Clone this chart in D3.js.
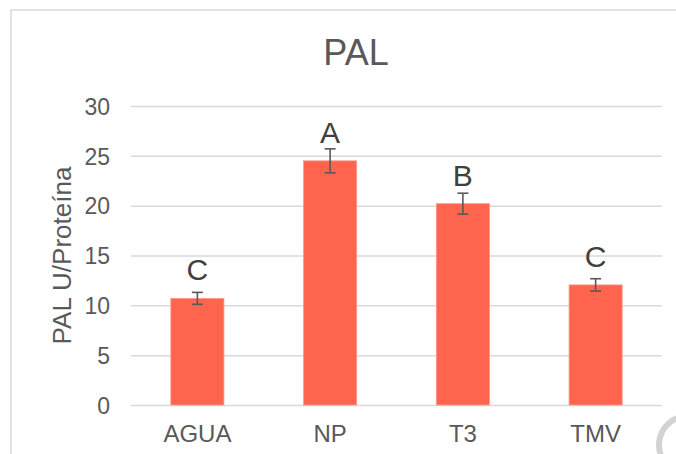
<!DOCTYPE html>
<html>
<head>
<meta charset="utf-8">
<script src="https://cdn.jsdelivr.net/npm/d3@7"></script>
<style>
  html, body { margin: 0; padding: 0; background: #fff; }
  svg { display: block; font-family: "Liberation Sans", Arial, sans-serif; }
</style>
</head>
<body>
<svg id="chart" width="676" height="454"></svg>
<script>
// chart data
const categories = ['AGUA', 'NP', 'T3', 'TMV'];
const values = [10.7, 24.5, 20.2, 12.05];
const errors = [0.6, 1.2, 1.05, 0.62];
const letters = ['C', 'A', 'B', 'C'];
const yTicks = [0, 5, 10, 15, 20, 25, 30];

const svg = d3.select('#chart');
const margin = { top: 106, right: 14, bottom: 49, left: 131 };
const width = 676 - margin.left - margin.right;
const height = 454 - margin.top - margin.bottom;

// chart frame (runs off the right and bottom edges)
svg.append('rect')
  .attr('x', 11).attr('y', 10)
  .attr('width', 700).attr('height', 470)
  .attr('fill', 'none')
  .attr('stroke', '#d9d9d9')
  .attr('stroke-width', 1.5);

const chart = svg.append('g')
  .attr('transform', `translate(${margin.left},${margin.top})`);

const xScale = d3.scaleBand()
  .domain(categories)
  .range([0, width])
  .paddingInner(0.6)
  .paddingOuter(0.3);

const yScale = d3.scaleLinear()
  .domain([0, 30])
  .range([height, 0]);

// gridlines + y labels
const yAxis = chart.append('g')
  .call(d3.axisLeft(yScale).tickValues(yTicks).tickSize(-width).tickPadding(21));
yAxis.select('.domain').remove();
yAxis.selectAll('line').attr('stroke', '#d9d9d9').attr('stroke-width', 1.5);
yAxis.selectAll('text')
  .attr('fill', '#595959')
  .style('font-size', '23px')
  .attr('dy', '0.36em');

// bars
chart.selectAll('.bar')
  .data(values)
  .enter()
  .append('rect')
  .attr('class', 'bar')
  .attr('x', (d, i) => xScale(categories[i]))
  .attr('y', d => yScale(d))
  .attr('width', xScale.bandwidth())
  .attr('height', d => height - yScale(d))
  .attr('fill', '#ff644e')
  .attr('stroke', '#ff9a8c')
  .attr('stroke-width', 0.8);

// error bars
const cx = i => xScale(categories[i]) + xScale.bandwidth() / 2;
const err = chart.append('g')
  .attr('stroke', '#595959')
  .attr('stroke-width', 1.6)
  .attr('fill', 'none');
values.forEach((v, i) => {
  const hi = yScale(v + errors[i]);
  const lo = yScale(v - errors[i]);
  err.append('line').attr('x1', cx(i)).attr('x2', cx(i)).attr('y1', hi).attr('y2', lo);
  err.append('line').attr('x1', cx(i) - 5.5).attr('x2', cx(i) + 5.5).attr('y1', hi).attr('y2', hi);
  err.append('line').attr('x1', cx(i) - 5.5).attr('x2', cx(i) + 5.5).attr('y1', lo).attr('y2', lo);
});

// significance letters
chart.selectAll('.letter')
  .data(values)
  .enter()
  .append('text')
  .attr('class', 'letter')
  .attr('x', (d, i) => cx(i))
  .attr('y', d => yScale(d) - 18)
  .attr('text-anchor', 'middle')
  .attr('fill', '#404040')
  .style('font-size', '30px')
  .text((d, i) => letters[i]);

// x axis labels
const xAxis = chart.append('g')
  .attr('transform', `translate(0,${height})`)
  .call(d3.axisBottom(xScale).tickSize(0).tickPadding(20));
xAxis.select('.domain').remove();
xAxis.selectAll('text')
  .attr('fill', '#595959')
  .style('font-size', '24px')
  .attr('dy', '0.71em');

// y axis title
svg.append('text')
  .attr('transform', `translate(71,${margin.top + height / 2}) rotate(-90)`)
  .attr('text-anchor', 'middle')
  .attr('fill', '#595959')
  .style('font-size', '26px')
  .text('PAL U/Proteína');

// title
svg.append('text')
  .attr('x', 356)
  .attr('y', 65)
  .attr('text-anchor', 'middle')
  .attr('fill', '#595959')
  .style('font-size', '36px')
  .text('PAL');

// faint watermark arc, bottom right
svg.append('path')
  .attr('transform', 'translate(688,445)')
  .attr('d', d3.arc()({ innerRadius: 26, outerRadius: 32, startAngle: -Math.PI, endAngle: -0.4 }))
  .attr('fill', '#d3d3d3');
</script>
</body>
</html>
